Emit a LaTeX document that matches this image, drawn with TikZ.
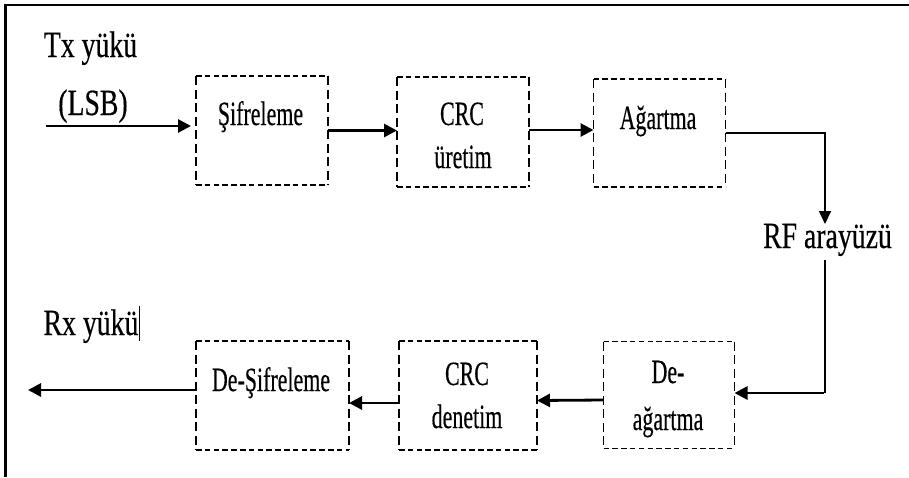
\documentclass[tikz,border=0pt]{standalone}
\usepackage{fontspec}
\setmainfont{Liberation Serif}[UprightFeatures={FakeBold=0.5}]
\usetikzlibrary{arrows.meta}
\newcommand{\sqbig}[1]{\scalebox{0.75}[1]{#1}}
\newcommand{\sqbox}[1]{\scalebox{0.645}[1]{#1}}
\tikzset{
  box/.style={draw=none, inner sep=0pt, outer sep=0pt},
  hd/.style={line width=1.7pt, dash pattern=on 5.5pt off 3.3pt},
  vd/.style={line width=1.7pt, dash pattern=on 9pt off 4.5pt},
  bigtxt/.style={inner sep=0pt, anchor=base, font=\fontsize{37}{40}\selectfont},
  boxtxt/.style={inner sep=0pt, anchor=base, font=\fontsize{34}{38}\selectfont},
  flow/.style={line width=2.8pt, -{Triangle[length=13pt,width=13pt]}},
  rfline/.style={line width=1.6pt},
  rfarrow/.style={line width=1.6pt, -{Triangle[length=13pt,width=12pt]}},
  frame/.style={line width=2.2pt}
}
\begin{document}
\begin{tikzpicture}[x=1pt,y=-1pt]
\useasboundingbox (0,0) rectangle (909,477);
% frame
\coordinate (ftr) at (909,5);
\coordinate (ftl) at (5.5,5);
\coordinate (fbl) at (5.5,477);
\draw[frame] (ftr) -- (ftl) -- (fbl);

% boxes
\node[box, minimum width=132pt, minimum height=109pt] (b1) at (262,130.5) {};
\node[box, minimum width=132pt, minimum height=110pt] (b2) at (463,132) {};
\node[box, minimum width=132pt, minimum height=108pt] (b3) at (659.5,133) {};
\node[box, minimum width=153pt, minimum height=109pt] (b4) at (272.5,395.5) {};
\node[box, minimum width=138pt, minimum height=109pt] (b5) at (468,395.5) {};
\node[box, minimum width=131pt, minimum height=107pt] (b6) at (669,395) {};
\foreach \b in {b1,b2,b3,b4,b5,b6}{
  \draw[hd] (\b.north west) -- (\b.north east) (\b.south west) -- (\b.south east);
  \draw[vd] (\b.north west) -- (\b.south west) (\b.north east) -- (\b.south east);
}

% box texts
\node[boxtxt] (t1) at (260.5,125) {\sqbox{Şifreleme}};
\node[boxtxt] (t2a) at (462,125) {\sqbox{CRC}};
\node[boxtxt] (t2b) at (463,168) {\sqbox{üretim}};
\node[boxtxt] (t3) at (658,129) {\sqbox{Ağartma}};
\node[boxtxt] (t4) at (271,391) {\sqbox{De-Şifreleme}};
\node[boxtxt] (t5a) at (467,385) {\sqbox{CRC}};
\node[boxtxt] (t5b) at (467,428) {\sqbox{denetim}};
\node[boxtxt] (t6a) at (668,383) {\sqbox{De-}};
\node[boxtxt] (t6b) at (668,430) {\sqbox{ağartma}};

% outer labels
\node[bigtxt] (tx) at (90.5,57) {\sqbig{Tx yükü}};
\node[bigtxt] (lsb) at (93,115) {\sqbig{(LSB)}};
\node[bigtxt] (rf) at (827.5,248) {\sqbig{RF arayüzü}};
\node[bigtxt] (rx) at (91,335) {\sqbig{Rx yükü}};
\coordinate (cur1) at (139.5,306);
\coordinate (cur2) at (139.5,341);
\draw[line width=1.4pt] (cur1) -- (cur2);

% connectors
\coordinate (tin) at (46,126);
\draw[flow, shorten >=5pt] (tin) -- (b1.west |- tin);
\draw[flow] (b1.east) -- (b2.west |- b1.east);
\draw[flow] ([yshift=2pt]b2.east) -- ([yshift=2pt]b3.west |- b2.east);
\coordinate (rfin) at (825,224);
\coordinate (rfout) at (825,260);
\draw[rfarrow] (b3.east) -| (rfin);
\coordinate (rfcorner) at (825,393);
\draw[rfline] (rfout) -- (rfcorner);
\draw[flow] ([xshift=-0.8pt]rfcorner) -- ([yshift=2pt]b6.east);
\draw[flow] ([yshift=-5pt]b6.west) -- ([yshift=-5pt]b5.east);
\draw[flow] ([yshift=-7.5pt]b5.west) -- ([yshift=-7.5pt]b4.east);
\coordinate (tout) at (28,390);
\draw[flow] ([yshift=5.5pt]b4.west) -- (tout);
\end{tikzpicture}
\end{document}
